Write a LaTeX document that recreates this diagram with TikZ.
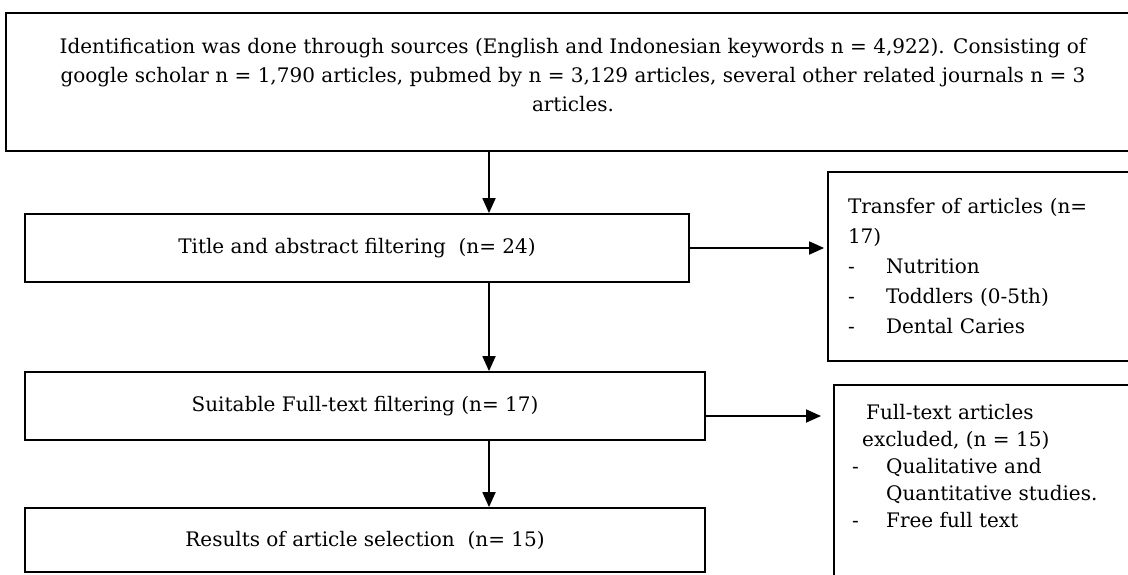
\documentclass[tikz,border=0pt]{standalone}
\usepackage{fontspec}
\setmainfont{DejaVu Serif}
\usetikzlibrary{positioning,arrows.meta}

\tikzset{
  stagebox/.style={draw, line width=1.8pt, rectangle, inner sep=0pt},
  boxtext/.style={font=\fontsize{20}{29}\selectfont},
  flowarrow/.style={line width=1.8pt, -{Triangle[length=15pt,width=13pt]}},
}

\begin{document}
\begin{tikzpicture}[x=1pt,y=-1pt]
  \useasboundingbox (0,0) rectangle (1128,574);

  \node[stagebox, boxtext, minimum width=1134pt, minimum height=138pt, align=center] (ident) at (573,82)
    {Identification was done through sources (English and Indonesian keywords n = 4,922). Consisting of\\
     google scholar n = 1,790 articles, pubmed by n = 3,129 articles, several other related journals n = 3\\
     articles.\rule[-14pt]{0pt}{14pt}};

  \node[stagebox, boxtext, minimum width=664pt, minimum height=68pt] (title) at (357,248)
    {Title and abstract filtering~~(n= 24)};
  \node[stagebox, boxtext, minimum width=312pt, minimum height=189pt, align=left, text width=272pt,
        font=\fontsize{20}{30}\selectfont] (transfer) at (984,266.5)
    {Transfer of articles (n=\\
     17)\\
     \makebox[38pt][l]{-}Nutrition\\
     \makebox[38pt][l]{-}Toddlers (0-5th)\\
     \makebox[38pt][l]{-}Dental Caries};

  \node[stagebox, boxtext, minimum width=680pt, minimum height=68pt] (suitable) at (365,406)
    {Suitable Full-text filtering (n= 17)};
  \node[stagebox, minimum width=307pt, minimum height=230pt, anchor=north west] (fulltext) at (833,384) {};
  \node[align=left, anchor=north west, inner sep=0pt, font=\fontsize{20}{27}\selectfont] (fulltextnote) at (852,404)
    {\hspace*{14pt}Full-text articles\\
     \hspace*{10pt}excluded, (n = 15)\\
     \makebox[34pt][l]{-}Qualitative and\\
     \hspace*{34pt}Quantitative studies.\\
     \makebox[34pt][l]{-}Free full text};

  \node[stagebox, boxtext, minimum width=680pt, minimum height=64pt] (results) at (365,540)
    {Results of article selection~~(n= 15)};

  % connectors
  \draw[flowarrow] (ident.south -| 489,0) -- (title.north -| 489,0);
  \draw[flowarrow] (title.east) -- ([xshift=-3pt]transfer.west |- title.east);
  \draw[flowarrow] (title.south -| 489,0) -- (suitable.north -| 489,0);
  \coordinate (s1) at ([yshift=-10pt]suitable.east);
  \draw[flowarrow] (s1) -- ([xshift=-12pt]fulltext.west |- s1);
  \draw[flowarrow] (suitable.south -| 489,0) -- (results.north -| 489,0);
\end{tikzpicture}
\end{document}
